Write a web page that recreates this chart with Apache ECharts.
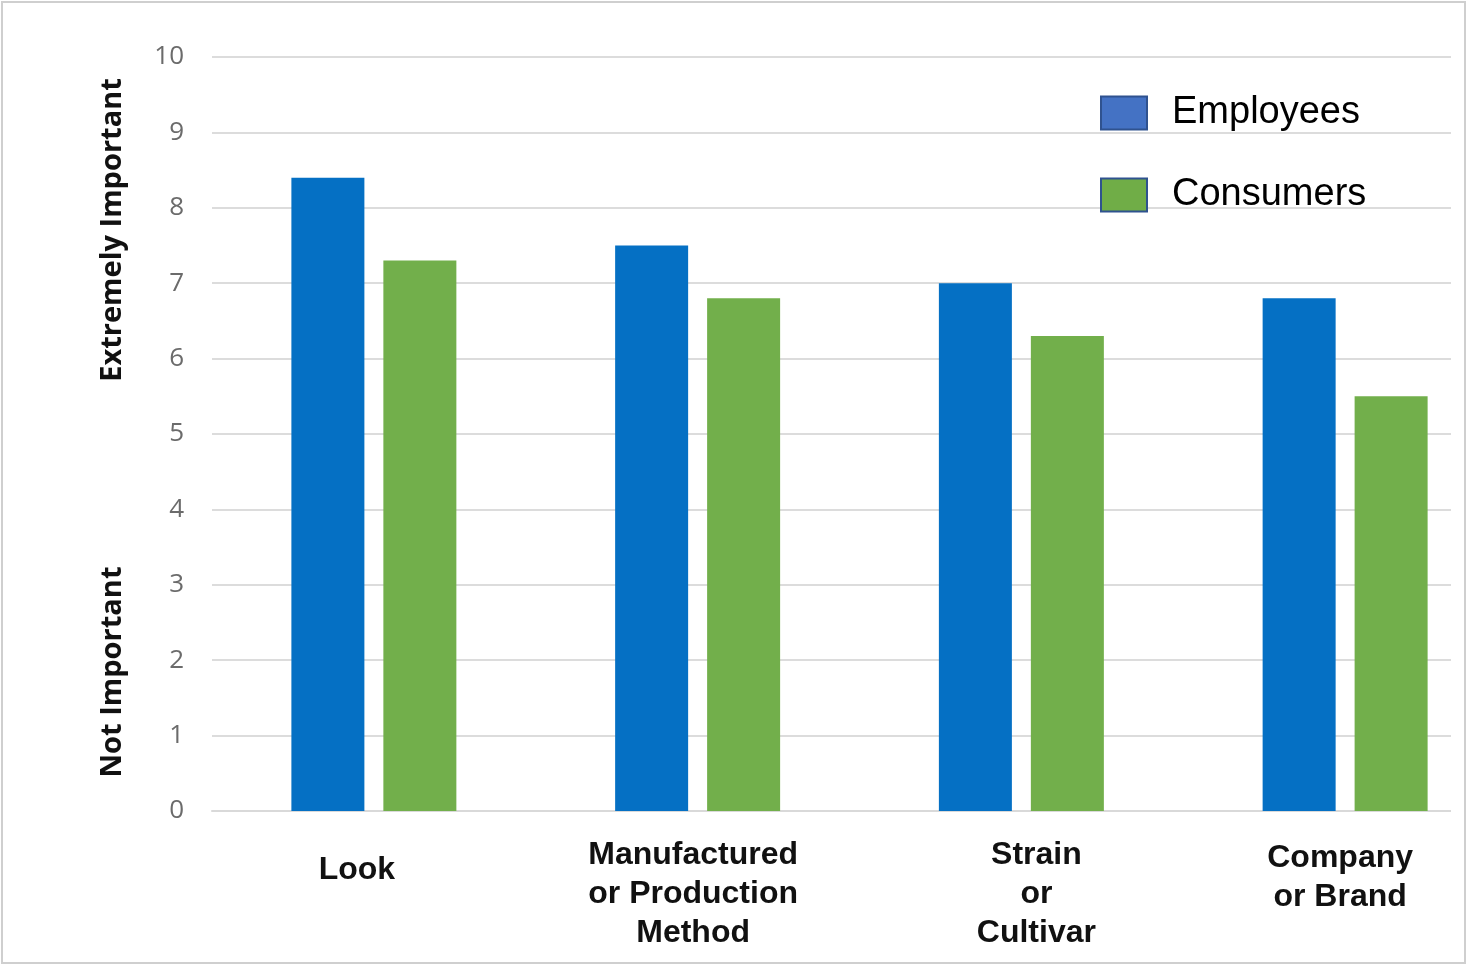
<!DOCTYPE html>
<html>
<head>
<meta charset="utf-8">
<script src="https://cdn.jsdelivr.net/npm/echarts@6/dist/echarts.min.js"></script>
<style>
  html, body { margin: 0; padding: 0; background: #fff; overflow: hidden; }
  /* wider than the window: the original picture was cropped on the right */
  #chart { width: 1520px; height: 966px; }
</style>
</head>
<body>
<div id="chart"></div>
<script>
// categories along the x axis
var categories = ['Look', 'Manufactured\nor Production\nMethod', 'Strain\nor\nCultivar', 'Company\nor Brand'];
// importance scores (0-10)
var employees = [8.4, 7.5, 7.0, 6.8];
var consumers = [7.3, 6.8, 6.3, 5.5];
var yTicks = [0, 10, 1]; // min, max, step

// per-label nudges so the labels sit like the original
var labelPads = [[15, 34, 0, 0], [0, 9, 0, 0], [0, 0, 0, 30], [3, 10, 0, 0]];

var chart = echarts.init(document.getElementById('chart'));

var option = {
    backgroundColor: '#fff',
    animation: false,
    grid: { left: 212, top: 57, bottom: 155, right: 13, containLabel: false },
    legend: {
        orient: 'vertical',
        left: 1095,
        top: 89,
        itemWidth: 46,
        itemHeight: 33,
        itemGap: 44,
        icon: 'rect',
        textStyle: { fontFamily: 'Liberation Sans, Arial', fontSize: 38, color: '#000', padding: [0, 0, 0, 20] },
        data: [
            { name: 'Employees', itemStyle: { color: '#4472C4', borderColor: '#2F528F', borderWidth: 2 } },
            { name: 'Consumers', itemStyle: { color: '#70AD47', borderColor: '#2F528F', borderWidth: 2 } }
        ]
    },
    xAxis: {
        type: 'category',
        data: categories.map(function (c, i) {
            return { value: c, textStyle: { padding: labelPads[i] } };
        }),
        axisLine: { show: true, lineStyle: { color: '#d9d9d9', width: 2 } },
        axisTick: { show: false },
        axisLabel: {
            margin: 25,
            verticalAlign: 'top',
            fontFamily: 'Liberation Sans, Arial',
            fontWeight: 'bold',
            fontSize: 32,
            lineHeight: 39,
            color: '#111'
        }
    },
    yAxis: {
        type: 'value',
        min: yTicks[0],
        max: yTicks[1],
        interval: yTicks[2],
        axisLine: { show: false },
        axisTick: { show: false },
        axisLabel: { margin: 28, fontFamily: 'Open Sans', fontSize: 26, color: '#6b6b6b' },
        splitLine: { lineStyle: { color: '#dcdcdc', width: 2 } }
    },
    series: [
        {
            name: 'Employees', type: 'bar', data: employees,
            barWidth: 73, barGap: '26%',
            itemStyle: { color: '#0570C4' }
        },
        {
            name: 'Consumers', type: 'bar', data: consumers,
            barWidth: 73,
            itemStyle: { color: '#72AF4B' }
        }
    ],
    graphic: [
        // hide the grid lines beyond the original's right edge
        { type: 'rect', z: 50, shape: { x: 1451, y: 0, width: 80, height: 966 }, style: { fill: '#fff' } },
        // picture frame
        { type: 'rect', z: 60, shape: { x: 2, y: 2, width: 1463, height: 961 }, style: { fill: 'none', stroke: '#cfcfcf', lineWidth: 2 } },
        // y axis end captions
        {
            type: 'text', z: 60, x: 113, y: 230, rotation: Math.PI / 2,
            style: { text: 'Extremely Important', fontFamily: 'Open Sans', fontWeight: 'bold', fontSize: 29, fill: '#111', align: 'center', verticalAlign: 'middle' }
        },
        {
            type: 'text', z: 60, x: 113, y: 672, rotation: Math.PI / 2,
            style: { text: 'Not Important', fontFamily: 'Open Sans', fontWeight: 'bold', fontSize: 29, fill: '#111', align: 'center', verticalAlign: 'middle' }
        }
    ]
};

chart.setOption(option);
</script>
</body>
</html>
